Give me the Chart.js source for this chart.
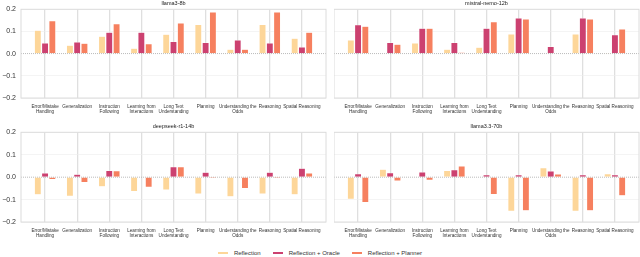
<!DOCTYPE html>
<html>
<head>
<meta charset="utf-8">
<script src="https://cdn.jsdelivr.net/npm/chart.js@4.4.0/dist/chart.umd.min.js"></script>
<style>
  body { margin: 0; background: #fff; width: 640px; height: 257px; overflow: hidden; position: relative; font-family: "Liberation Sans", Arial, sans-serif; }
  .box { position: absolute; }
  #legend { position: absolute; left: 0; top: 248px; width: 640px; height: 10px; display: flex; justify-content: center; align-items: center; font-size: 6px; color: #333; }
  #legend .item { display: flex; align-items: center; margin: 0 6px; }
  #legend .sw { width: 10px; height: 2px; margin-right: 6px; }
</style>
</head>
<body>
<div class="box" style="left:0;top:0"><canvas id="c1" width="330" height="120"></canvas></div>
<div class="box" style="left:334px;top:0"><canvas id="c2" width="306" height="120"></canvas></div>
<div class="box" style="left:0;top:123px"><canvas id="c3" width="330" height="121"></canvas></div>
<div class="box" style="left:334px;top:123px"><canvas id="c4" width="306" height="121"></canvas></div>
<div id="legend"></div>
<script>
// categorias del eje x
const categories = ['Error/Mistake\nHandling', 'Generalization', 'Instruction\nFollowing', 'Learning from\nInteractions',
  'Long Text\nUnderstanding', 'Planning', 'Understanding the\nOdds', 'Reasoning', 'Spatial Reasoning'];
const seriesNames = ['Reflection', 'Reflection + Oracle', 'Reflection + Planner'];
const seriesColors = ['#fdd699', '#cc4170', '#f6805f'];
const yTicks = [-0.2, -0.1, 0.0, 0.1, 0.2];

// valores
const llama3_8b_reflection = [0.106, 0.038, 0.079, 0.024, 0.088, 0.132, 0.020, 0.132, 0.070];
const llama3_8b_oracle     = [0.048, 0.052, 0.097, 0.097, 0.055, 0.050, 0.061, 0.048, 0.030];
const llama3_8b_planner    = [0.148, 0.047, 0.135, 0.045, 0.138, 0.188, 0.020, 0.188, 0.097];

const mistral_reflection = [0.061, 0, 0.048, 0.020, 0.029, 0.089, 0, 0.089, 0.004];
const mistral_oracle     = [0.130, 0.050, 0.114, 0.050, 0.114, 0.161, 0.032, 0.161, 0.085];
const mistral_planner    = [0.124, 0.042, 0.115, 0.006, 0.144, 0.156, 0, 0.156, 0.111];

const deepseek_reflection = [-0.078, -0.085, -0.043, -0.064, -0.057, -0.075, -0.087, -0.075, -0.078];
const deepseek_oracle     = [0.019, 0.013, 0.030, 0, 0.046, 0.022, 0, 0.022, 0.040];
const deepseek_planner    = [-0.010, -0.024, 0.028, -0.045, 0.046, -0.006, -0.051, -0.006, 0.019];

const llama33_reflection = [-0.098, 0.035, 0, 0.030, 0, -0.152, 0.042, -0.152, 0.015];
const llama33_oracle     = [0.015, 0.020, 0.023, 0.033, 0.011, 0.011, 0.027, 0.011, 0.011];
const llama33_planner    = [-0.113, -0.017, -0.014, 0.050, -0.077, -0.150, 0.014, -0.150, -0.083];

Chart.defaults.font.family = '"Liberation Sans", Arial, sans-serif';
Chart.defaults.color = '#333';

// marco gris y linea punteada en cero
const framePlugin = {
  id: 'frame',
  beforeDatasetsDraw(chart) {
    const { ctx, chartArea: a, scales } = chart;
    ctx.save();
    const y0 = scales.y.getPixelForValue(0);
    ctx.strokeStyle = '#aaa';
    ctx.lineWidth = 0.8;
    ctx.setLineDash([1, 1]);
    ctx.beginPath();
    ctx.moveTo(a.left, y0);
    ctx.lineTo(a.right, y0);
    ctx.stroke();
    ctx.setLineDash([]);
    ctx.strokeStyle = '#dcdcdc';
    ctx.lineWidth = 1;
    ctx.strokeRect(a.left, a.top, a.right - a.left, a.bottom - a.top);
    ctx.restore();
  }
};

function makeChart(id, title, series, showY) {
  return new Chart(document.getElementById(id), {
    type: 'bar',
    data: {
      datasets: series.map((vals, k) => ({
        label: seriesNames[k],
        data: vals.map((v, i) => ({ x: i, y: v })),
        backgroundColor: seriesColors[k],
        borderColor: '#fff',
        borderWidth: 0.5,
        categoryPercentage: 0.68,
        barPercentage: 0.95
      }))
    },
    options: {
      responsive: false,
      animation: false,
      layout: { padding: { left: 0, right: showY ? 4 : 1, top: 0, bottom: 0 } },
      plugins: {
        legend: { display: false },
        tooltip: { enabled: false },
        title: {
          display: true, text: title, fullSize: false,
          font: { size: 5.5, weight: 'normal' }, color: '#222',
          padding: { top: 0.2, bottom: 2.5 }
        }
      },
      scales: {
        x: {
          type: 'linear', min: -0.75, max: 8.75, offset: false,
          afterBuildTicks: s => { s.ticks = categories.map((c, i) => ({ value: i })); },
          afterFit: s => { s.height = 22; },
          ticks: {
            autoSkip: false, maxRotation: 0, padding: 6,
            font: { size: 4.6, lineHeight: 1.1 }, color: '#333',
            callback: (v, i) => categories[i].split('\n')
          },
          grid: { color: '#dfdfdf', lineWidth: 1.3, drawTicks: false, offset: false },
          border: { display: false }
        },
        y: {
          min: -0.2, max: 0.2,
          afterBuildTicks: s => { s.ticks = yTicks.map(v => ({ value: v })); },
          afterFit: s => { s.width = showY ? 21 : 0; },
          ticks: {
            display: showY, padding: 5, font: { size: 7 }, color: '#333',
            callback: v => (v < -1e-9 ? '\u2212' : '') + Math.abs(v).toFixed(1)
          },
          grid: {
            drawTicks: false, lineWidth: 0.6,
            color: c => Math.abs(c.tick.value) < 1e-9 ? 'rgba(0,0,0,0)' : '#ececec'
          },
          border: { display: false }
        }
      }
    },
    plugins: [framePlugin]
  });
}

makeChart('c1', 'llama3-8b', [llama3_8b_reflection, llama3_8b_oracle, llama3_8b_planner], true);
makeChart('c2', 'mistral-nemo-12b', [mistral_reflection, mistral_oracle, mistral_planner], false);
makeChart('c3', 'deepseek-r1-14b', [deepseek_reflection, deepseek_oracle, deepseek_planner], true);
makeChart('c4', 'llama3.3-70b', [llama33_reflection, llama33_oracle, llama33_planner], false);

// leyenda
const legend = document.getElementById('legend');
seriesNames.forEach((name, k) => {
  const item = document.createElement('div');
  item.className = 'item';
  item.innerHTML = '<span class="sw" style="background:' + seriesColors[k] + '"></span><span>' + name + '</span>';
  legend.appendChild(item);
});
</script>
</body>
</html>
